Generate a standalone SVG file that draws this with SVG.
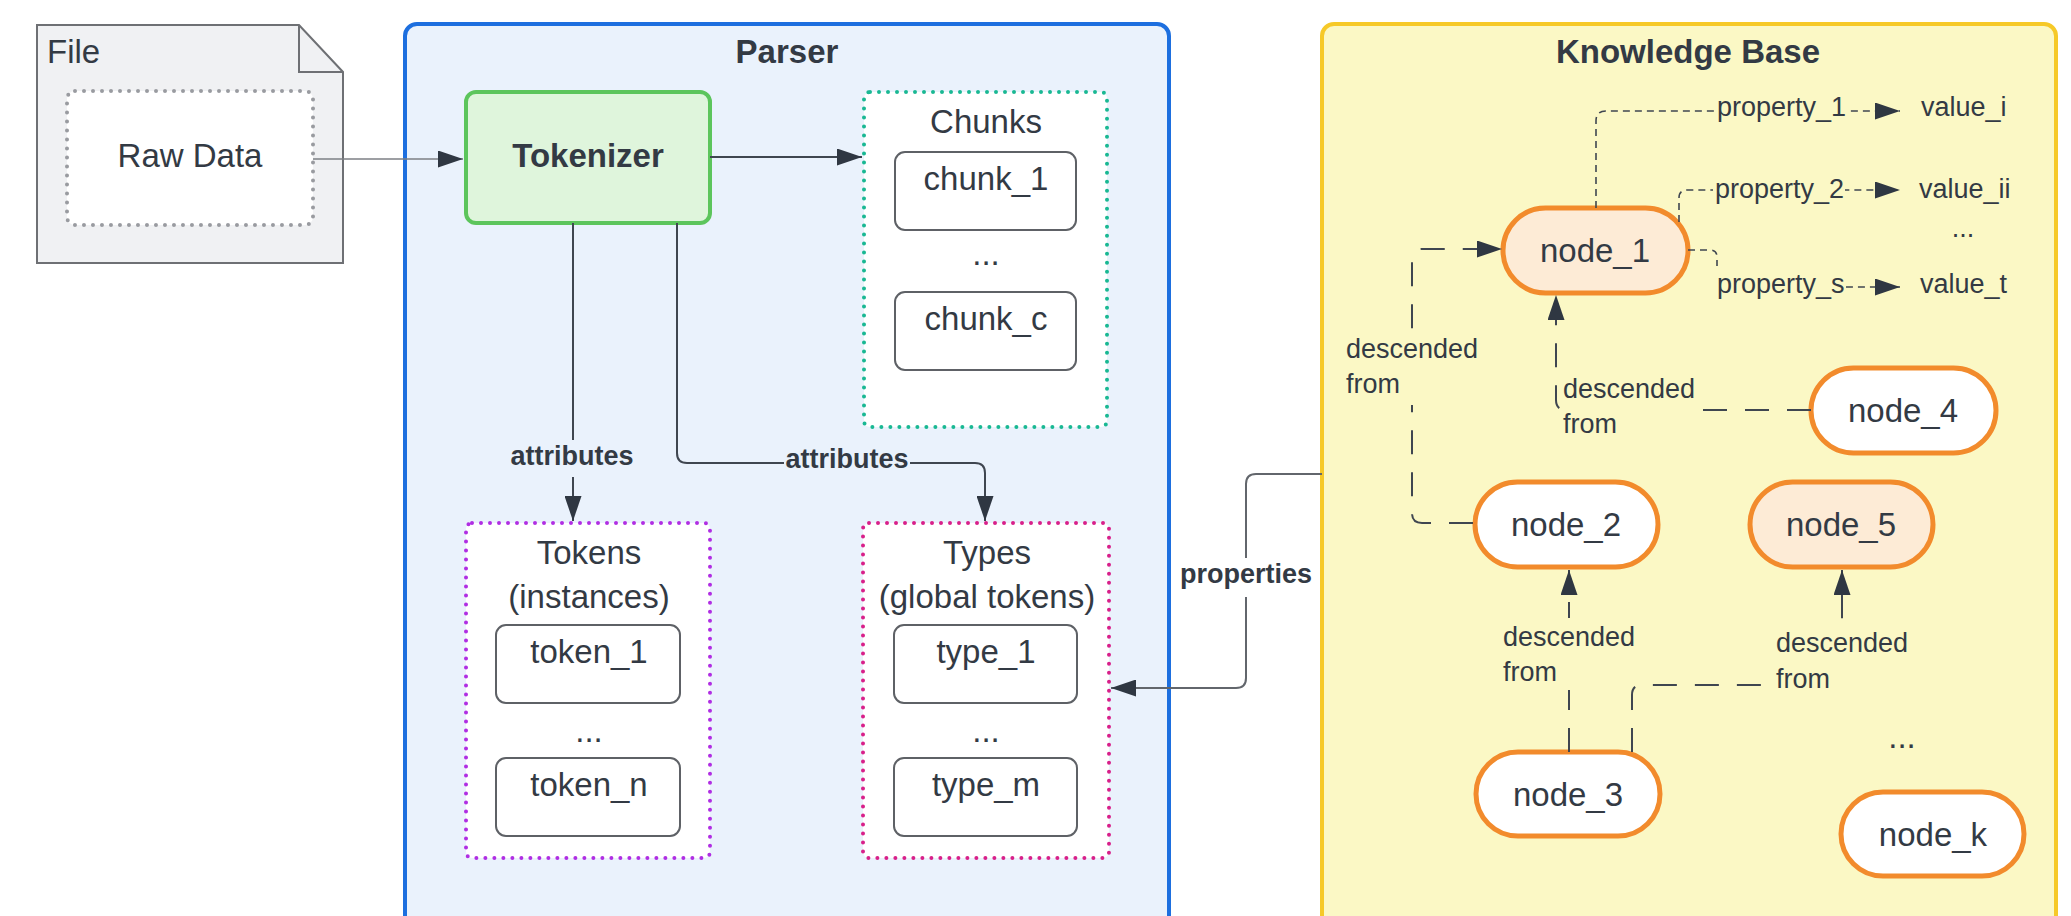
<svg xmlns="http://www.w3.org/2000/svg" width="2071" height="916" viewBox="0 0 2071 916">
  <defs>
    <marker id="arrow" viewBox="0 0 25 17" refX="25" refY="8.5" markerWidth="25" markerHeight="17" markerUnits="userSpaceOnUse" orient="auto">
      <path d="M0,0 L25,8.5 L0,17 z" fill="#2f3742"/>
    </marker>
    <style>
      text { font-family: "Liberation Sans", Arial, sans-serif; fill: #333a44; }
      .t { font-size: 33px; }
      .c { text-anchor: middle; }
      .b { font-weight: bold; }
      .lbl { font-size: 27px; }
      .item { fill: #ffffff; stroke: #5e6166; stroke-width: 2; }
      .dots { fill: #ffffff; stroke-width: 4; stroke-dasharray: 0 9; stroke-linecap: round; }
      .node { stroke: #f28b2c; stroke-width: 5; }
      .plain { fill: #ffffff; }
      .peach { fill: #fdebd6; }
      .conn { fill: none; stroke: #3f4650; stroke-width: 2; }
      .prop { fill: none; stroke: #3f4650; stroke-width: 1.6; stroke-dasharray: 7 5; }
      .desc { fill: none; stroke: #3f4650; stroke-width: 2; stroke-dasharray: 24 18; }
      .kbbg { fill: #fbf8c5; }
      .pbg { fill: #eaf2fc; }
    </style>
  </defs>

  <rect width="2071" height="916" fill="#ffffff"/>

  <!-- containers -->
  <g id="parser">
    <rect x="405" y="24" width="764" height="930" rx="12" fill="#eaf2fc" stroke="#1d6fdf" stroke-width="4"/>
    <text class="t c b" x="787" y="63">Parser</text>
  </g>
  <g id="knowledge-base">
    <rect x="1322" y="24" width="734" height="930" rx="12" fill="#fbf8c5" stroke="#f6c928" stroke-width="4"/>
    <text class="t c b" x="1688" y="63">Knowledge Base</text>
  </g>

  <!-- file with raw data -->
  <g id="file">
    <path d="M37,25 H299 L343,72 V263 H37 Z" fill="#f0f1f3" stroke="#6e7074" stroke-width="2"/>
    <path d="M299,25 V72 H343" fill="none" stroke="#6e7074" stroke-width="2"/>
    <text class="t" x="47" y="63">File</text>
  </g>
  <g id="raw-data">
    <rect x="67" y="91" width="246" height="134" rx="8" class="dots" stroke="#999ba0"/>
    <text class="t c" x="190" y="167">Raw Data</text>
  </g>

  <!-- parser parts -->
  <g id="tokenizer">
    <rect x="466" y="92" width="244" height="131" rx="10" fill="#dff5dc" stroke="#5cc55c" stroke-width="4"/>
    <text class="t c b" x="588" y="167">Tokenizer</text>
  </g>
  <g id="chunks">
    <rect x="864" y="92" width="243" height="335" rx="6" class="dots" stroke="#19b893"/>
    <text class="t c" x="986" y="133">Chunks</text>
    <rect x="895" y="152" width="181" height="78" rx="10" class="item"/>
    <text class="t c" x="986" y="190">chunk_1</text>
    <text class="t c" x="986" y="265">...</text>
    <rect x="895" y="292" width="181" height="78" rx="10" class="item"/>
    <text class="t c" x="986" y="330">chunk_c</text>
  </g>
  <g id="tokens">
    <rect x="466" y="523" width="244" height="335" rx="6" class="dots" stroke="#b02ee3"/>
    <text class="t c" x="589" y="564">Tokens</text>
    <text class="t c" x="589" y="608">(instances)</text>
    <rect x="496" y="625" width="184" height="78" rx="10" class="item"/>
    <text class="t c" x="589" y="663">token_1</text>
    <text class="t c" x="589" y="742">...</text>
    <rect x="496" y="758" width="184" height="78" rx="10" class="item"/>
    <text class="t c" x="589" y="796">token_n</text>
  </g>
  <g id="types">
    <rect x="863" y="523" width="246" height="335" rx="6" class="dots" stroke="#d8208a"/>
    <text class="t c" x="987" y="564">Types</text>
    <text class="t c" x="987" y="608">(global tokens)</text>
    <rect x="894" y="625" width="183" height="78" rx="10" class="item"/>
    <text class="t c" x="986" y="663">type_1</text>
    <text class="t c" x="986" y="742">...</text>
    <rect x="894" y="758" width="183" height="78" rx="10" class="item"/>
    <text class="t c" x="986" y="796">type_m</text>
  </g>

  <!-- knowledge base nodes -->
  <g id="node_1">
    <rect x="1503" y="208" width="185" height="85" rx="42.5" class="node peach"/>
    <text class="t c" x="1595" y="262">node_1</text>
  </g>
  <g id="node_4">
    <rect x="1811" y="368" width="185" height="85" rx="42.5" class="node plain"/>
    <text class="t c" x="1903" y="422">node_4</text>
  </g>
  <g id="node_2">
    <rect x="1475" y="482" width="183" height="85" rx="42.5" class="node plain"/>
    <text class="t c" x="1566" y="536">node_2</text>
  </g>
  <g id="node_5">
    <rect x="1750" y="482" width="183" height="85" rx="42.5" class="node peach"/>
    <text class="t c" x="1841" y="536">node_5</text>
  </g>
  <g id="node_3">
    <rect x="1476" y="752" width="184" height="84" rx="42" class="node plain"/>
    <text class="t c" x="1568" y="806">node_3</text>
  </g>
  <g id="node_k">
    <rect x="1841" y="792" width="183" height="84" rx="42" class="node plain"/>
    <text class="t c" x="1933" y="846">node_k</text>
  </g>
  <g id="values">
    <text class="lbl" x="1921" y="116">value_i</text>
    <text class="lbl" x="1919" y="198">value_ii</text>
    <text class="lbl c" x="1963" y="237">...</text>
    <text class="lbl" x="1920" y="293">value_t</text>
    <text class="t c" x="1902" y="748">...</text>
  </g>

  <!-- connectors -->
  <g id="connectors">
    <path d="M313,159 H463" fill="none" stroke="#7d7f84" stroke-width="1.5" marker-end="url(#arrow)"/>
    <path d="M710,157 H862" class="conn" marker-end="url(#arrow)"/>

    <path d="M573,223 V521" class="conn" marker-end="url(#arrow)"/>
    <rect x="509" y="440" width="127" height="37" class="pbg"/>
    <text class="lbl b c" x="572" y="465">attributes</text>

    <path d="M677,223 V453 Q677,463 687,463 H975 Q985,463 985,473 V521" class="conn" marker-end="url(#arrow)"/>
    <rect x="784" y="442" width="126" height="34" class="pbg"/>
    <text class="lbl b c" x="847" y="468">attributes</text>

    <path d="M1322,474 H1256 Q1246,474 1246,484 V678 Q1246,688 1236,688 H1111" fill="none" stroke="#62666c" stroke-width="2" marker-end="url(#arrow)"/>
    <rect x="1177" y="558" width="137" height="39" fill="#ffffff"/>
    <text class="lbl b c" x="1246" y="583">properties</text>

    <!-- descent links -->
    <path d="M1473,523 H1422 Q1412,523 1412,513 V259 Q1412,249 1422,249 H1502" class="desc" marker-end="url(#arrow)"/>
    <rect x="1342" y="330" width="140" height="75" class="kbbg"/>
    <text class="lbl" x="1346" y="358">descended</text>
    <text class="lbl" x="1346" y="393">from</text>

    <path d="M1811,410 H1566 Q1556,410 1556,400 V295" class="desc" marker-end="url(#arrow)"/>
    <rect x="1562" y="372" width="136" height="70" class="kbbg"/>
    <text class="lbl" x="1563" y="398">descended</text>
    <text class="lbl" x="1563" y="433">from</text>

    <path d="M1569,752 V570" class="desc" marker-end="url(#arrow)"/>
    <rect x="1500" y="618" width="137" height="72" class="kbbg"/>
    <text class="lbl" x="1503" y="646">descended</text>
    <text class="lbl" x="1503" y="681">from</text>

    <path d="M1632,752 V695 Q1632,685 1642,685 H1832 Q1842,685 1842,675 V570" class="desc" marker-end="url(#arrow)"/>
    <rect x="1773" y="626" width="137" height="71" class="kbbg"/>
    <text class="lbl" x="1776" y="652">descended</text>
    <text class="lbl" x="1776" y="688">from</text>

    <!-- property links -->
    <path d="M1596,208 V121 Q1596,111 1606,111 H1900" class="prop" marker-end="url(#arrow)"/>
    <rect x="1715" y="95" width="132" height="29" class="kbbg"/>
    <text class="lbl" x="1717" y="116">property_1</text>

    <path d="M1679,222 V198 Q1679,190 1687,190 H1900" class="prop" marker-end="url(#arrow)"/>
    <rect x="1713" y="177" width="132" height="29" class="kbbg"/>
    <text class="lbl" x="1715" y="198">property_2</text>

    <path d="M1688,250 H1710 Q1717,250 1717,257 V287 H1900" class="prop" marker-end="url(#arrow)"/>
    <rect x="1715" y="266" width="131" height="34" class="kbbg"/>
    <text class="lbl" x="1717" y="293">property_s</text>
  </g>
</svg>
